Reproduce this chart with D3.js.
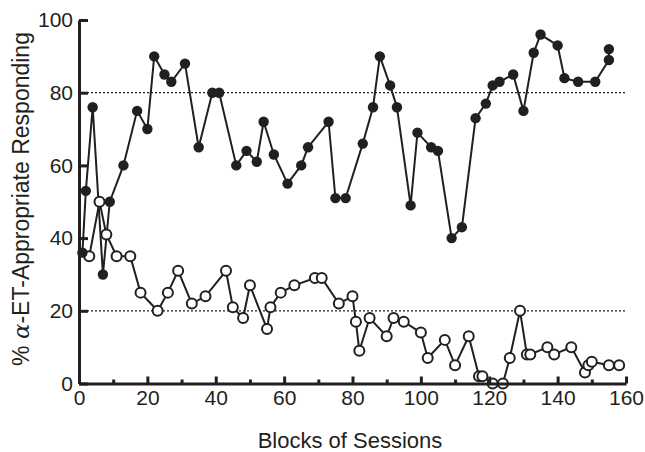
<!DOCTYPE html>
<html>
<head>
<meta charset="utf-8">
<script src="https://cdn.jsdelivr.net/npm/d3@7"></script>
<style>
  body { margin: 0; background: #fff; }
  svg text { font-family: "Liberation Sans", Arial, sans-serif; fill: #231f20; }
</style>
</head>
<body>
<div id="chart"></div>
<script>
// filled circles (upper series)
const filledX = [1, 2, 4, 7, 9, 13, 17, 20, 22, 25, 27, 31, 35, 39, 41, 46, 49, 52, 54, 57, 61, 65, 67, 73, 75, 78, 83, 86, 88, 91, 93, 97, 99, 103, 105, 109, 112, 116, 119, 121, 123, 127, 130, 133, 135, 140, 142, 146, 151, 155, 155];
const filledY = [36, 53, 76, 30, 50, 60, 75, 70, 90, 85, 83, 88, 65, 80, 80, 60, 64, 61, 72, 63, 55, 60, 65, 72, 51, 51, 66, 76, 90, 82, 76, 49, 69, 65, 64, 40, 43, 73, 77, 82, 83, 85, 75, 91, 96, 93, 84, 83, 83, 89, 92];
// open circles (lower series)
const openX = [3, 6, 8, 11, 15, 18, 23, 26, 29, 33, 37, 43, 45, 48, 50, 55, 56, 59, 63, 69, 71, 76, 80, 81, 82, 85, 90, 92, 95, 100, 102, 107, 110, 114, 117, 118, 121, 124, 126, 129, 131, 132, 137, 139, 144, 148, 149, 150, 155, 158];
const openY = [35, 50, 41, 35, 35, 25, 20, 25, 31, 22, 24, 31, 21, 18, 27, 15, 21, 25, 27, 29, 29, 22, 24, 17, 9, 18, 13, 18, 17, 14, 7, 12, 5, 13, 2, 2, 0, 0, 7, 20, 8, 8, 10, 8, 10, 3, 5, 6, 5, 5];
const xTicks = [0, 20, 40, 60, 80, 100, 120, 140, 160];
const xMinorTicks = [10, 30, 50, 70, 90, 110, 130, 150];
const yTicks = [0, 20, 40, 60, 80, 100];
const refLines = [20, 80];

const width = 645, height = 452;
const svg = d3.select("#chart").append("svg")
  .attr("width", width).attr("height", height);

const x = d3.scaleLinear().domain([0, 160]).range([79, 626]);
const y = d3.scaleLinear().domain([0, 100]).range([383.5, 20]);

// dotted reference lines
svg.append("g").selectAll("line").data(refLines).enter().append("line")
  .attr("x1", x(0)).attr("x2", x(160))
  .attr("y1", d => y(d)).attr("y2", d => y(d))
  .attr("stroke", "#231f20").attr("stroke-width", 1.2)
  .attr("stroke-dasharray", "2,2");

const line = d3.line().x(d => x(d[0])).y(d => y(d[1]));
const filled = filledX.map((v, i) => [v, filledY[i]]);
const open = openX.map((v, i) => [v, openY[i]]);

svg.append("path").datum(open)
  .attr("d", line).attr("fill", "none")
  .attr("stroke", "#231f20").attr("stroke-width", 2);
svg.append("path").datum(filled)
  .attr("d", line).attr("fill", "none")
  .attr("stroke", "#231f20").attr("stroke-width", 2);

svg.append("g").selectAll("circle").data(open).enter().append("circle")
  .attr("cx", d => x(d[0])).attr("cy", d => y(d[1])).attr("r", 5)
  .attr("fill", "#fff").attr("stroke", "#231f20").attr("stroke-width", 2);
svg.append("g").selectAll("circle").data(filled).enter().append("circle")
  .attr("cx", d => x(d[0])).attr("cy", d => y(d[1])).attr("r", 5.2)
  .attr("fill", "#231f20");

// axes
const xAxis = svg.append("g").attr("transform", `translate(0,${y(0)})`)
  .call(d3.axisBottom(x).tickValues(xTicks).tickSizeInner(-7).tickSizeOuter(0).tickPadding(6));
svg.append("g").attr("transform", `translate(0,${y(0)})`)
  .call(d3.axisBottom(x).tickValues(xMinorTicks).tickSizeInner(-4).tickSizeOuter(0).tickFormat(""))
  .select(".domain").remove();
const yAxis = svg.append("g").attr("transform", `translate(${x(0)},0)`)
  .call(d3.axisLeft(y).tickValues(yTicks).tickSizeInner(-9).tickSizeOuter(0).tickPadding(6));

svg.selectAll(".domain").attr("stroke", "#231f20").attr("stroke-width", 3);
svg.selectAll(".tick line").attr("stroke", "#231f20").attr("stroke-width", 3);
xAxis.selectAll("text").attr("font-size", 21).attr("dy", "0.72em");
yAxis.selectAll("text").attr("font-size", 21);
svg.selectAll(".tick text").style("fill", "#231f20");

// titles
svg.append("text")
  .attr("x", 350).attr("y", 448)
  .attr("text-anchor", "middle").attr("font-size", 22)
  .text("Blocks of Sessions");

const yl = svg.append("text")
  .attr("transform", "translate(29,199) rotate(-90)")
  .attr("text-anchor", "middle").attr("font-size", 23);
yl.append("tspan").text("% ");
yl.append("tspan").attr("font-style", "italic").attr("font-family", "DejaVu Serif, serif").text("α");
yl.append("tspan").text("-ET-Appropriate Responding");
</script>
</body>
</html>
